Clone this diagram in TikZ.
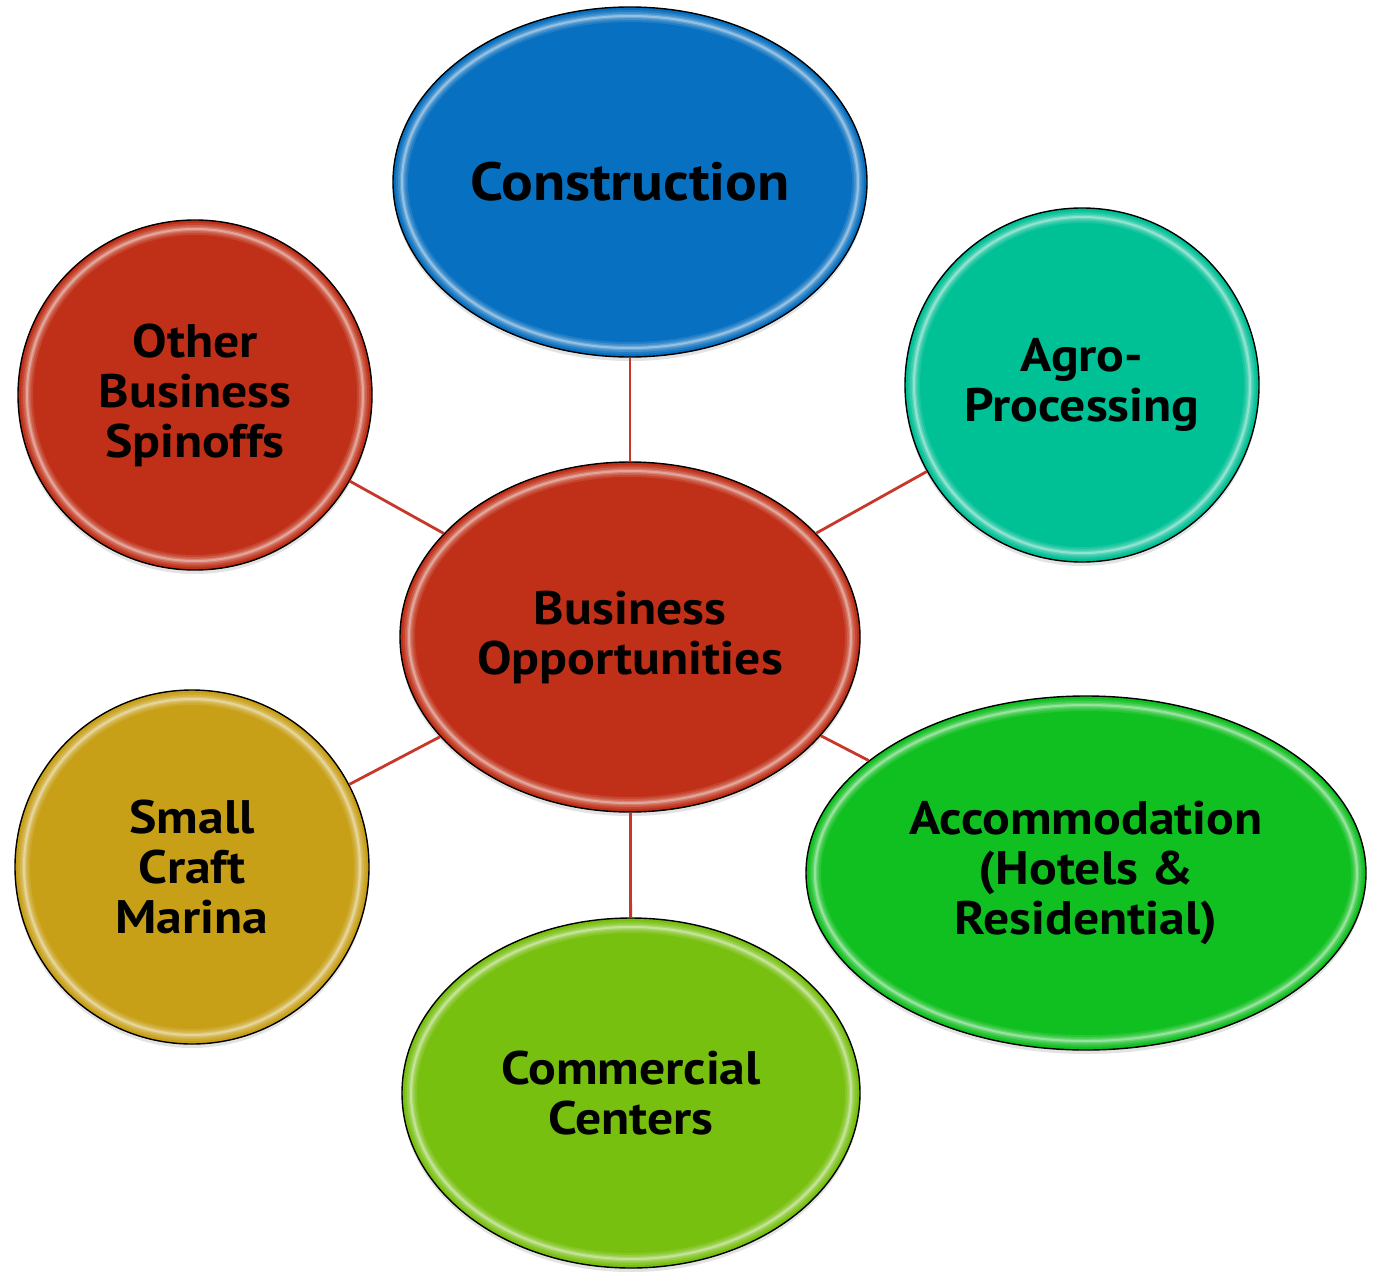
\documentclass[tikz,border=0pt]{standalone}
\usepackage{fontspec}
\setmainfont{PT Sans}[FakeStretch=1.1]
\usetikzlibrary{shapes.geometric,calc,shadows}

\definecolor{cBlue}{HTML}{0870C0}
\definecolor{cRed}{HTML}{C03018}
\definecolor{cTeal}{HTML}{00C096}
\definecolor{cGold}{HTML}{C8A018}
\definecolor{cLime}{HTML}{78C010}
\definecolor{cGreen}{HTML}{10C020}
\definecolor{cLink}{HTML}{C8382A}

\tikzset{
  bubble/.style={
    ellipse, draw=black, line width=0.7pt, inner sep=0pt,
    align=center, text=black,
    font=\fontsize{23.5}{25}\selectfont\bfseries,
    drop shadow={opacity=0.22, shadow xshift=0pt, shadow yshift=-2pt},
    path picture={
      % soft glossy rim just inside the outline
      \foreach \w/\o in {6pt/0.10, 4pt/0.14, 2.2pt/0.2, 1pt/0.3}{
        \draw[white, opacity=\o, line width=\w]
          let \p1=(path picture bounding box.north east),
              \p2=(path picture bounding box.center) in
          (\p2) ellipse ({\x1-\x2-4.5pt} and {\y1-\y2-4.5pt});
      }
    }
  },
  link/.style={draw=cLink, line width=1.4pt}
}

\begin{document}
\begin{tikzpicture}[x=0.5pt, y=-0.5pt]
  \fill[white] (0,0) rectangle (1386,1273);
  \useasboundingbox (0,0) rectangle (1386,1273);

  % hub
  \node[bubble, fill=cRed, minimum width=230pt, minimum height=175pt]
    (hub) at (630,637) {Business\\Opportunities};

  % surrounding topics
  \node[bubble, fill=cBlue, minimum width=237pt, minimum height=175pt,
        font=\fontsize{26.9}{30}\selectfont\bfseries]
    (cons) at (630,182) {Construction};
  \node[bubble, fill=cTeal, minimum width=177pt, minimum height=177pt]
    (agro) at (1082,385) {Agro-\\Processing};
  \node[bubble, fill=cGreen, minimum width=280pt, minimum height=177pt]
    (acco) at (1086,873) {Accommodation\\(Hotels \&\\Residential)};
  \node[bubble, fill=cLime, minimum width=229pt, minimum height=175pt]
    (comm) at (631,1093) {Commercial\\Centers};
  \node[bubble, fill=cGold, minimum width=177pt, minimum height=177pt]
    (marina) at (192,867) {Small\\Craft\\Marina};
  \node[bubble, fill=cRed, minimum width=177pt, minimum height=175pt]
    (other) at (195,395) {Other\\Business\\Spinoffs};

  % spokes
  \draw[link] (hub) -- (cons);
  \draw[link] (hub) -- (agro);
  \draw[link] (hub) -- (acco);
  \draw[link] (hub) -- (comm);
  \draw[link] (hub) -- (marina);
  \draw[link] (hub) -- (other);
\end{tikzpicture}
\end{document}
